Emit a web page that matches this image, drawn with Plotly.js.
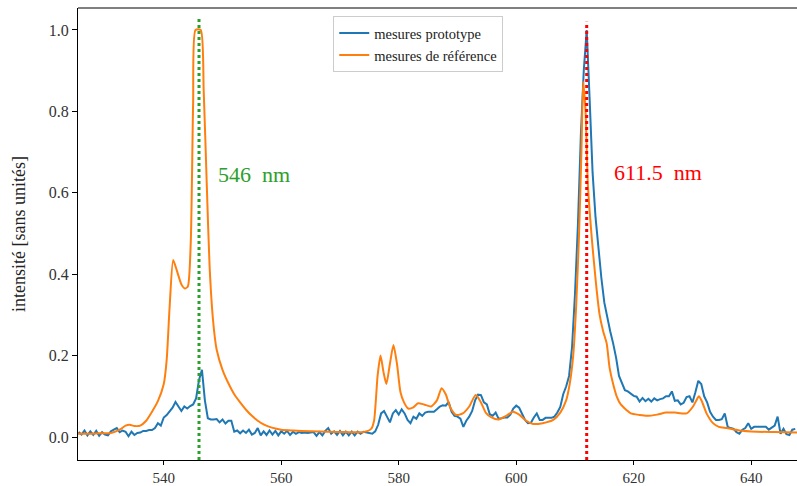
<!DOCTYPE html>
<html>
<head>
<meta charset="utf-8">
<script src="https://cdn.plot.ly/plotly-3.0.1.min.js"></script>
<style>html,body{margin:0;padding:0;background:#fff;}#chart{width:797px;height:486px;}</style>
</head>
<body>
<div id="chart"></div>
<script>
// Prototype measurements: sampled every 0.5 nm from 525.5 nm
const protoStart = 525.5;
const protoStep = 0.5;
const protoValues = [
  0.012,0.006,0.016,0.004,0.014,0.005,0.015,0.003,0.012,0.006,
  0.004,0.014,0.018,0.022,0.012,0.016,0.013,0.002,0.013,0.005,
  0.010,0.011,0.015,0.015,0.017,0.017,0.022,0.034,0.028,0.048,
  0.054,0.062,0.072,0.086,0.074,0.064,0.075,0.070,0.076,0.080,
  0.095,0.140,0.165,0.090,0.046,0.043,0.043,0.044,0.036,0.043,
  0.033,0.040,0.040,0.013,0.016,0.009,0.016,0.010,0.018,0.006,
  0.010,0.022,0.004,0.014,0.005,0.016,0.006,0.015,0.004,0.014,
  0.008,0.015,0.005,0.013,0.008,0.012,0.010,0.011,0.010,0.011,
  0.012,0.003,0.012,0.004,0.015,0.022,0.008,0.014,0.005,0.015,
  0.004,0.013,0.004,0.013,0.004,0.013,0.008,0.013,0.011,0.010,
  0.008,0.014,0.030,0.058,0.064,0.050,0.036,0.058,0.066,0.055,
  0.068,0.058,0.042,0.034,0.050,0.045,0.058,0.052,0.060,0.062,
  0.062,0.062,0.068,0.075,0.078,0.077,0.086,0.062,0.052,0.050,
  0.045,0.025,0.040,0.050,0.064,0.090,0.104,0.103,0.085,0.080,
  0.056,0.052,0.060,0.045,0.046,0.048,0.048,0.055,0.070,0.077,
  0.072,0.055,0.042,0.034,0.035,0.048,0.058,0.042,0.042,0.047,
  0.047,0.047,0.050,0.060,0.074,0.105,0.124,0.150,0.220,0.350,
  0.520,0.740,0.900,1.000,0.830,0.650,0.540,0.460,0.390,0.330,
  0.290,0.260,0.230,0.195,0.150,0.130,0.115,0.112,0.106,0.101,
  0.099,0.087,0.096,0.088,0.094,0.087,0.095,0.090,0.093,0.095,
  0.100,0.100,0.112,0.089,0.090,0.080,0.084,0.098,0.100,0.085,
  0.110,0.138,0.130,0.100,0.085,0.062,0.050,0.042,0.042,0.044,
  0.058,0.025,0.022,0.020,0.012,0.008,0.018,0.022,0.034,0.020,
  0.025,0.025,0.025,0.025,0.025,0.018,0.024,0.028,0.050,0.008,
  0.020,0.007,0.005,0.018,0.020
];
const protoWavelengths = protoValues.map((_, i) => protoStart + i * protoStep);

// Reference measurements
const refWavelengths = [
  525.4,527,529,531,532.5,533.5,534.2,535,536,537,
  538,539,540,540.5,541,541.6,542.2,543,543.6,544.1,
  544.6,545,545.4,546.3,546.8,547.3,547.8,548.4,549,550,
  551,552,553,554,555,556,557,558,559,560,
  562,565,568,571,574,575.3,575.8,576.4,576.9,577.4,
  577.9,578.5,579.1,579.7,580.3,580.9,581.6,582.4,583.3,584.3,
  585.5,586.5,587.3,588,588.8,589.8,590.9,592,593.1,594,
  594.8,595.8,597,598.3,599.4,600.5,601.7,602.9,604.5,606.3,
  607.5,608.5,609.1,609.7,610.2,610.7,611.1,611.4,611.8,612.2,
  612.8,613.1,613.7,614.2,614.8,615.4,615.9,616.5,617.1,617.8,
  618.8,619.5,621,622.2,624,625.5,627,629,630.1,630.6,
  631.1,631.6,632.4,633.5,634.5,635.8,638,641,644,647.8
];
const refValues = [
  0.008,0.008,0.009,0.010,0.018,0.028,0.030,0.027,0.028,0.040,
  0.062,0.088,0.130,0.190,0.320,0.435,0.410,0.375,0.365,0.370,
  0.480,0.820,1.000,1.000,0.850,0.630,0.420,0.285,0.215,0.165,
  0.132,0.105,0.085,0.067,0.052,0.040,0.031,0.025,0.021,0.018,
  0.016,0.014,0.013,0.012,0.012,0.020,0.040,0.150,0.200,0.160,
  0.130,0.180,0.226,0.180,0.110,0.085,0.070,0.072,0.083,0.080,
  0.075,0.090,0.120,0.105,0.072,0.054,0.058,0.075,0.103,0.085,
  0.060,0.048,0.043,0.052,0.062,0.055,0.040,0.032,0.034,0.042,
  0.060,0.090,0.130,0.200,0.320,0.500,0.700,0.873,0.800,0.620,
  0.500,0.450,0.360,0.300,0.260,0.230,0.170,0.130,0.100,0.080,
  0.066,0.058,0.054,0.052,0.055,0.060,0.060,0.058,0.075,0.088,
  0.100,0.088,0.058,0.034,0.025,0.022,0.016,0.013,0.012,0.011
];

const seriesNames = ["mesures prototype", "mesures de référence"];
const markers = [
  {wl: 546, color: "#2ca02c", label: "546  nm", labelX: 548.9, labelY: 0.646, top: 1.03},
  {wl: 612, color: "#ff0000", label: "611.5  nm", labelX: 616.3, labelY: 0.651, top: 1.02}
];
const xTicks = [540, 560, 580, 600, 620, 640];
const yTicks = [0.0, 0.2, 0.4, 0.6, 0.8, 1.0];

const serif = "Liberation Serif, DejaVu Serif, serif";

const traces = [
  {x: protoWavelengths, y: protoValues, name: seriesNames[0], type: "scatter", mode: "lines",
   line: {color: "#1f77b4", width: 2}},
  {x: refWavelengths, y: refValues, name: seriesNames[1], type: "scatter", mode: "lines",
   line: {color: "#ff7f0e", width: 2, shape: "spline", smoothing: 0.6}}
];

const layout = {
  width: 797, height: 486,
  margin: {l: 78, r: 0, t: 8, b: 26},
  paper_bgcolor: "#fff", plot_bgcolor: "#fff",
  font: {family: serif, color: "#222", size: 15},
  showlegend: true,
  legend: {x: 0.355, y: 0.982, xanchor: "left", yanchor: "top",
    bgcolor: "rgba(255,255,255,0.9)", bordercolor: "#cccccc", borderwidth: 1,
    font: {family: serif, size: 14.5, color: "#222"}, tracegroupgap: 0},
  xaxis: {range: [525.4, 647.8], tickvals: xTicks, ticktext: xTicks.map(String),
    showgrid: false, zeroline: false, showline: true, linecolor: "#000", linewidth: 1,
    mirror: false, ticks: "outside", ticklen: 4, tickcolor: "#000",
    tickfont: {family: serif, size: 15, color: "#333"}},
  yaxis: {range: [-0.0565, 1.054], tickvals: yTicks, ticktext: yTicks.map(v => v.toFixed(1)),
    showgrid: false, zeroline: false, showline: true, linecolor: "#000", linewidth: 1,
    ticks: "outside", ticklen: 5, tickcolor: "#000",
    tickfont: {family: serif, size: 16, color: "#333"},
    title: {text: "intensité [sans unités]", font: {family: serif, size: 18, color: "#222"}, standoff: 18}},
  shapes: [
    {type: "line", xref: "paper", yref: "paper", x0: 0, x1: 1, y0: 1, y1: 1, line: {color: "#000", width: 1}}
  ].concat(markers.map(m => ({
    type: "line", xref: "x", yref: "y", x0: m.wl, x1: m.wl, y0: -0.0565, y1: m.top,
    line: {color: m.color, width: 3, dash: "dot"}, layer: "above"
  }))),
  annotations: markers.map(m => ({
    x: m.labelX, y: m.labelY, xref: "x", yref: "y", text: m.label, showarrow: false,
    xanchor: "left", yanchor: "middle", font: {family: serif, size: 22, color: m.color}
  }))
};

Plotly.newPlot("chart", traces, layout, {displayModeBar: false, staticPlot: true});
</script>
</body>
</html>
